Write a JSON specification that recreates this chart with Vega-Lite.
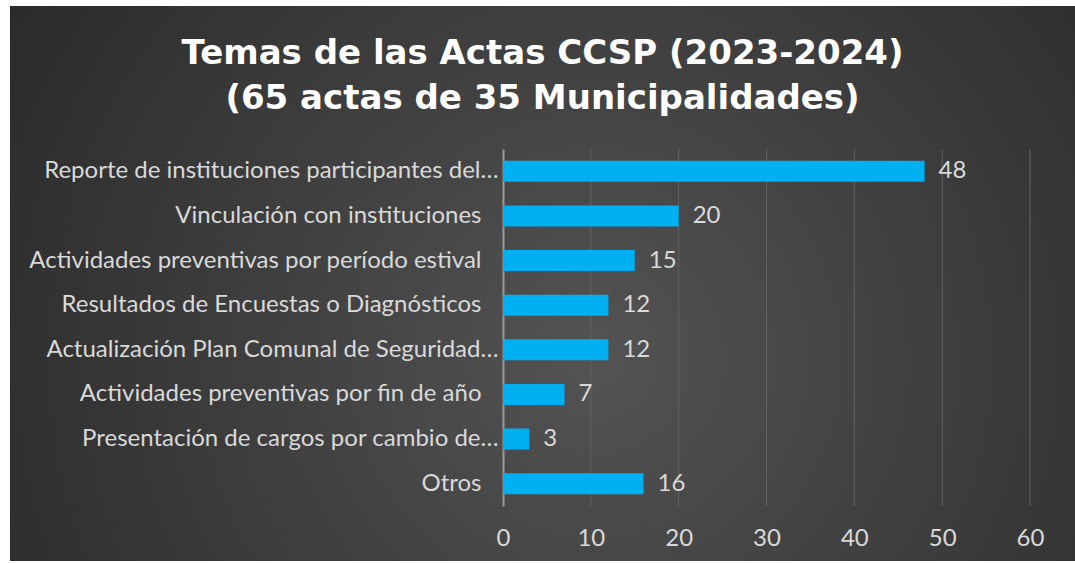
{
  "$schema": "https://vega.github.io/schema/vega-lite/v6.json",
  "width": 1065,
  "height": 555,
  "autosize": {"type": "none"},
  "padding": {"left": 10, "top": 6, "right": 0, "bottom": 2},
  "background": "#ffffff",
  "title": {
    "text": ["Temas de las Actas CCSP (2023-2024)", "(65 actas de 35 Municipalidades)"],
    "font": "DejaVu Sans",
    "fontSize": 34,
    "fontWeight": "bold",
    "color": "#ffffff",
    "anchor": "middle",
    "frame": "group",
    "offset": -110,
    "lineHeight": 45
  },
  "datasets": {
    "temas": [
      {"tema": "Reporte de instituciones participantes del…", "actas": 48},
      {"tema": "Vinculación con instituciones", "actas": 20},
      {"tema": "Actividades preventivas por período estival", "actas": 15},
      {"tema": "Resultados de Encuestas o Diagnósticos", "actas": 12},
      {"tema": "Actualización Plan Comunal de Seguridad…", "actas": 12},
      {"tema": "Actividades preventivas por fin de año", "actas": 7},
      {"tema": "Presentación de cargos por cambio de…", "actas": 3},
      {"tema": "Otros", "actas": 16}
    ],
    "rejilla": [{"t": 10}, {"t": 20}, {"t": 30}, {"t": 40}, {"t": 50}, {"t": 60}]
  },
  "data": {"name": "temas"},
  "layer": [
    {
      "data": {"name": "rejilla"},
      "mark": {"type": "rule", "color": "#626262", "strokeWidth": 1},
      "encoding": {
        "x": {"field": "t", "type": "quantitative"},
        "y": {"datum": "Reporte de instituciones participantes del…", "type": "nominal", "bandPosition": -0.564},
        "y2": {"datum": "Otros", "bandPosition": 1.564}
      }
    },
    {
      "mark": {"type": "bar", "color": "#00b0f0"},
      "encoding": {
        "x": {"field": "actas", "type": "quantitative"},
        "y": {"field": "tema", "type": "nominal", "sort": null}
      }
    },
    {
      "mark": {"type": "text", "align": "left", "baseline": "middle", "dx": 14, "font": "Lato", "fontSize": 24, "color": "#d9d9d9"},
      "encoding": {
        "x": {"field": "actas", "type": "quantitative"},
        "y": {"field": "tema", "type": "nominal", "sort": null},
        "text": {"field": "actas", "type": "quantitative"}
      }
    }
  ],
  "resolve": {"scale": {"x": "shared", "y": "shared"}},
  "encoding": {
    "y": {
      "field": "tema",
      "type": "nominal",
      "sort": null,
      "scale": {
        "domain": [
          "Reporte de instituciones participantes del…",
          "Vinculación con instituciones",
          "Actividades preventivas por período estival",
          "Resultados de Encuestas o Diagnósticos",
          "Actualización Plan Comunal de Seguridad…",
          "Actividades preventivas por fin de año",
          "Presentación de cargos por cambio de…",
          "Otros"
        ],
        "range": [143, 500], "paddingInner": 0.53, "paddingOuter": 0.265},
      "axis": {
        "title": null,
        "offset": -493,
        "domain": true,
        "domainColor": "#9a9a9a",
        "domainWidth": 2,
        "ticks": false,
        "labelPadding": {"condition": {"test": "indexof(datum.label, '…') >= 0", "value": 5}, "value": 22},
        "labelFont": "Lato",
        "labelFontSize": 24,
        "labelColor": "#d9d9d9",
        "labelLimit": 700
      }
    },
    "x": {
      "field": "actas",
      "type": "quantitative",
      "scale": {"domain": [0, 60], "nice": false, "range": [493, 1020]},
      "axis": {
        "title": null,
        "offset": -55,
        "values": [0, 10, 20, 30, 40, 50, 60],
        "domain": false,
        "ticks": false,
        "grid": false,
        "labelPadding": 20,
        "labelFlush": false,
        "labelFont": "Lato",
        "labelFontSize": 24,
        "labelColor": "#d9d9d9"
      }
    }
  },
  "config": {
    "view": {"stroke": null,
      "fill": {"gradient": "radial", "x1": 0.55, "y1": 0.57, "r1": 0, "x2": 0.55, "y2": 0.57, "r2": 0.8,
        "stops": [{"offset": 0, "color": "#535353"}, {"offset": 1, "color": "#202020"}]}}
  }
}
